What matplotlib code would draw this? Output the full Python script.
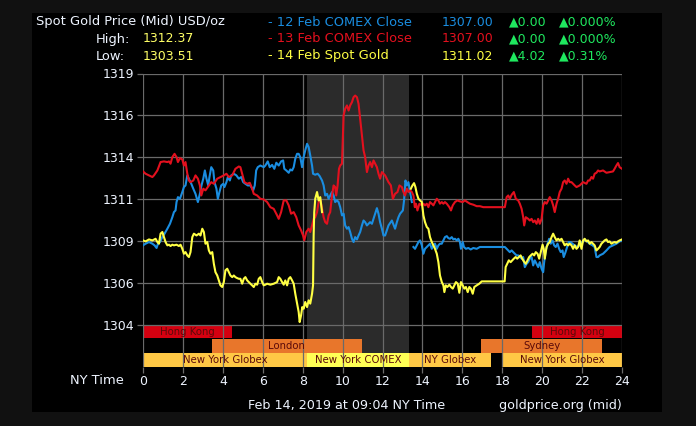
import numpy as np
import matplotlib
matplotlib.use('Agg')
import matplotlib.pyplot as plt
import matplotlib.transforms as mtransforms
from matplotlib.patches import Rectangle

# 12 Feb COMEX close (blue), NY hour -> price
blue = [(0.00, 1308.56), (0.13, 1308.66), (0.30, 1308.76), (0.47, 1308.66), (0.58, 1308.56), (0.68, 1308.40),
        (0.75, 1308.66), (0.85, 1308.76), (0.97, 1309.06), (1.08, 1309.27), (1.22, 1309.57), (1.35, 1309.87),
        (1.47, 1310.27), (1.55, 1310.58), (1.63, 1310.68), (1.68, 1311.19), (1.75, 1311.49), (1.85, 1311.39),
        (1.97, 1311.80), (2.05, 1312.10), (2.13, 1312.20), (2.22, 1312.81), (2.30, 1312.61), (2.42, 1312.30),
        (2.52, 1312.00), (2.63, 1311.69), (2.75, 1311.19), (2.85, 1311.69), (2.93, 1312.20), (3.02, 1312.61),
        (3.10, 1313.11), (3.18, 1312.61), (3.27, 1312.20), (3.33, 1312.71), (3.42, 1313.31), (3.52, 1313.11),
        (3.58, 1312.40), (3.68, 1312.00), (3.75, 1311.39), (3.83, 1311.80), (3.92, 1312.20), (4.02, 1312.30),
        (4.08, 1312.10), (4.18, 1312.40), (4.25, 1312.71), (4.35, 1312.50), (4.42, 1312.81), (4.55, 1312.91),
        (4.68, 1312.81), (4.80, 1312.61), (4.92, 1312.71), (5.02, 1312.40), (5.13, 1312.30), (5.25, 1312.20),
        (5.38, 1312.20), (5.52, 1311.90), (5.60, 1312.20), (5.67, 1313.11), (5.75, 1313.31), (5.88, 1313.41),
        (6.05, 1313.31), (6.13, 1313.41), (6.25, 1313.66), (6.35, 1313.31), (6.47, 1313.45), (6.58, 1313.21),
        (6.68, 1313.58), (6.80, 1313.41), (6.92, 1313.66), (7.02, 1313.72), (7.08, 1313.21), (7.18, 1313.11),
        (7.30, 1312.97), (7.38, 1313.17), (7.47, 1313.11), (7.55, 1313.31), (7.63, 1313.82), (7.72, 1314.12),
        (7.80, 1314.12), (7.88, 1313.92), (7.97, 1313.31), (8.05, 1313.92), (8.13, 1314.33), (8.22, 1314.73),
        (8.30, 1314.53), (8.38, 1314.02), (8.47, 1313.41), (8.52, 1312.91), (8.63, 1312.85), (8.75, 1312.91),
        (8.85, 1312.77), (8.97, 1312.50), (9.05, 1312.20), (9.13, 1311.59), (9.22, 1311.69), (9.30, 1311.39),
        (9.38, 1311.59), (9.47, 1311.80), (9.55, 1311.59), (9.63, 1311.19), (9.72, 1311.29), (9.80, 1311.19),
        (9.88, 1310.88), (9.97, 1310.38), (10.05, 1310.48), (10.13, 1309.77), (10.22, 1309.57), (10.30, 1309.67),
        (10.38, 1309.37), (10.47, 1308.96), (10.55, 1308.76), (10.63, 1309.06), (10.72, 1308.92), (10.80, 1309.16),
        (10.88, 1309.37), (10.97, 1309.77), (11.05, 1310.07), (11.13, 1309.97), (11.22, 1309.77), (11.30, 1309.87),
        (11.38, 1309.97), (11.47, 1309.87), (11.55, 1310.17), (11.63, 1310.48), (11.72, 1310.82), (11.80, 1310.48),
        (11.88, 1309.97), (11.97, 1309.57), (12.05, 1309.16), (12.13, 1309.16), (12.30, 1309.77), (12.47, 1310.07),
        (12.63, 1309.57), (12.72, 1309.97), (12.80, 1310.27), (12.88, 1310.48), (13.02, 1310.68), (13.08, 1311.29),
        (13.15, 1312.50), (13.22, 1312.20), (13.30, 1312.40), (13.38, 1311.80), (13.47, 1311.19), (13.50, np.nan),
        (13.55, 1308.46), (13.63, 1308.35), (13.72, 1308.56), (13.80, 1308.76), (13.88, 1308.86), (13.97, 1308.56),
        (14.05, 1308.05), (14.13, 1308.35), (14.22, 1308.46), (14.30, 1308.56), (14.38, 1308.66), (14.47, 1308.35),
        (14.55, 1308.56), (14.63, 1308.66), (14.72, 1308.35), (14.80, 1308.56), (14.88, 1308.66), (14.97, 1308.66),
        (15.05, 1308.86), (15.13, 1309.06), (15.22, 1309.12), (15.30, 1309.00), (15.38, 1308.96), (15.47, 1309.06),
        (15.55, 1308.92), (15.63, 1308.96), (15.72, 1308.86), (15.80, 1308.96), (15.88, 1308.76), (15.93, 1308.35),
        (16.02, 1308.76), (16.08, 1308.46), (16.18, 1308.35), (16.30, 1308.40), (16.42, 1308.31), (16.55, 1308.40),
        (16.72, 1308.35), (16.88, 1308.46), (17.05, 1308.46), (18.13, 1308.46), (18.22, 1308.35), (18.30, 1308.25),
        (18.38, 1308.15), (18.47, 1308.25), (18.55, 1308.15), (18.63, 1308.05), (18.72, 1307.95), (18.80, 1307.95),
        (18.88, 1307.85), (18.97, 1307.75), (19.05, 1307.85), (19.13, 1307.24), (19.22, 1307.44), (19.30, 1307.54),
        (19.38, 1307.75), (19.47, 1307.85), (19.55, 1307.34), (19.63, 1307.65), (19.72, 1307.44), (19.80, 1307.24),
        (19.88, 1307.54), (19.97, 1307.14), (20.05, 1306.93), (20.10, 1307.54), (20.18, 1308.25), (20.27, 1308.66),
        (20.35, 1308.96), (20.43, 1308.66), (20.52, 1308.86), (20.60, 1308.56), (20.68, 1308.46), (20.77, 1308.66),
        (20.85, 1308.35), (20.93, 1308.15), (21.02, 1308.25), (21.08, 1307.85), (21.17, 1308.15), (21.25, 1308.46),
        (21.33, 1308.76), (21.42, 1308.76), (21.52, 1308.66), (21.63, 1308.56), (21.75, 1308.46), (21.88, 1308.56),
        (22.02, 1308.76), (22.13, 1308.92), (22.25, 1308.80), (22.38, 1308.66), (22.52, 1308.56), (22.63, 1308.46),
        (22.72, 1307.85), (22.80, 1307.85), (22.88, 1307.95), (23.05, 1308.05), (23.22, 1308.25), (23.38, 1308.46),
        (23.55, 1308.56), (23.72, 1308.66), (23.88, 1308.80), (24.00, 1308.86)]

# 13 Feb COMEX close (red)
red = [(0.00, 1313.05), (0.13, 1312.91), (0.30, 1312.81), (0.47, 1312.71), (0.55, 1312.81), (0.72, 1313.11),
       (0.88, 1313.62), (1.05, 1313.66), (1.22, 1313.62), (1.30, 1313.66), (1.38, 1313.52), (1.47, 1313.92),
       (1.58, 1314.12), (1.68, 1313.92), (1.75, 1313.62), (1.85, 1313.86), (1.97, 1313.78), (2.05, 1313.41),
       (2.13, 1313.62), (2.22, 1312.91), (2.30, 1312.50), (2.38, 1312.40), (2.52, 1312.50), (2.63, 1312.81),
       (2.75, 1312.61), (2.85, 1312.20), (2.92, 1311.59), (3.02, 1312.00), (3.13, 1311.90), (3.30, 1312.20),
       (3.42, 1312.40), (3.55, 1312.30), (3.72, 1312.61), (3.88, 1312.71), (4.05, 1312.81), (4.18, 1312.91),
       (4.30, 1312.71), (4.47, 1312.81), (4.63, 1313.21), (4.80, 1313.35), (4.88, 1313.31), (4.97, 1312.91),
       (5.08, 1312.40), (5.22, 1312.30), (5.35, 1312.36), (5.47, 1312.00), (5.55, 1311.69), (5.72, 1311.59),
       (5.88, 1311.39), (6.05, 1311.35), (6.22, 1311.19), (6.38, 1310.88), (6.55, 1310.78), (6.72, 1310.38),
       (6.80, 1310.17), (6.92, 1310.58), (7.05, 1311.29), (7.18, 1311.29), (7.30, 1310.99), (7.42, 1310.48),
       (7.55, 1310.58), (7.68, 1310.27), (7.80, 1309.77), (7.92, 1309.47), (8.02, 1309.16), (8.08, 1308.86),
       (8.18, 1309.37), (8.30, 1309.57), (8.38, 1309.37), (8.47, 1309.77), (8.55, 1310.17), (8.63, 1310.27),
       (8.72, 1310.58), (8.80, 1311.19), (8.88, 1311.39), (8.97, 1310.78), (9.05, 1310.27), (9.13, 1309.97),
       (9.22, 1309.87), (9.30, 1310.38), (9.38, 1310.58), (9.47, 1311.59), (9.55, 1312.20), (9.63, 1312.10),
       (9.68, 1311.59), (9.75, 1312.20), (9.82, 1313.21), (9.88, 1313.41), (9.97, 1313.52), (10.05, 1316.45),
       (10.13, 1316.86), (10.22, 1317.06), (10.30, 1316.75), (10.38, 1317.06), (10.47, 1317.26), (10.55, 1317.56),
       (10.63, 1317.66), (10.72, 1317.56), (10.80, 1317.16), (10.88, 1316.25), (10.97, 1315.24), (11.05, 1314.33),
       (11.13, 1313.92), (11.22, 1313.01), (11.30, 1313.41), (11.38, 1313.62), (11.47, 1313.31), (11.55, 1313.72),
       (11.63, 1313.52), (11.72, 1313.31), (11.80, 1312.91), (11.88, 1312.61), (11.97, 1313.01), (12.13, 1312.81),
       (12.30, 1312.40), (12.42, 1312.20), (12.52, 1311.39), (12.63, 1311.69), (12.75, 1311.80), (12.85, 1312.20),
       (12.97, 1312.10), (13.05, 1311.80), (13.13, 1311.59), (13.22, 1312.00), (13.30, 1311.80), (13.38, 1311.90),
       (13.47, 1311.80), (13.55, 1311.59), (13.62, 1310.88), (13.68, 1311.09), (13.75, 1310.68), (13.85, 1311.09),
       (13.97, 1310.99), (14.05, 1311.09), (14.13, 1310.99), (14.22, 1311.09), (14.30, 1310.88), (14.38, 1311.19),
       (14.47, 1311.09), (14.55, 1310.99), (14.63, 1311.19), (14.72, 1311.39), (14.80, 1311.29), (14.88, 1311.09),
       (14.97, 1311.19), (15.05, 1311.09), (15.13, 1311.19), (15.22, 1311.09), (15.35, 1310.88), (15.43, 1310.68),
       (15.52, 1310.99), (15.63, 1311.19), (15.75, 1311.29), (15.88, 1311.23), (16.02, 1311.19), (16.13, 1311.29),
       (16.25, 1311.19), (16.38, 1311.09), (16.55, 1311.03), (16.72, 1310.94), (16.88, 1310.94), (17.05, 1310.88),
       (18.13, 1310.88), (18.22, 1311.49), (18.30, 1311.59), (18.38, 1311.39), (18.47, 1311.63), (18.58, 1311.80),
       (18.68, 1311.39), (18.80, 1311.29), (18.88, 1311.09), (18.97, 1310.78), (19.05, 1310.27), (19.10, 1309.77),
       (19.18, 1310.27), (19.30, 1310.17), (19.38, 1310.07), (19.47, 1310.17), (19.55, 1309.97), (19.63, 1310.07),
       (19.72, 1309.87), (19.80, 1310.17), (19.88, 1309.87), (19.97, 1310.17), (20.05, 1310.99), (20.13, 1311.19),
       (20.22, 1311.09), (20.30, 1311.29), (20.38, 1311.49), (20.47, 1311.29), (20.55, 1310.99), (20.63, 1310.58),
       (20.72, 1311.09), (20.80, 1311.39), (20.88, 1311.80), (20.97, 1312.00), (21.05, 1312.40), (21.13, 1312.50),
       (21.22, 1312.30), (21.30, 1312.61), (21.38, 1312.40), (21.47, 1312.40), (21.55, 1312.30), (21.63, 1312.20),
       (21.72, 1312.10), (21.88, 1312.20), (22.05, 1312.40), (22.22, 1312.30), (22.30, 1312.50), (22.38, 1312.50),
       (22.47, 1312.71), (22.55, 1312.61), (22.63, 1312.91), (22.72, 1312.97), (22.80, 1313.11), (22.88, 1313.05),
       (23.05, 1313.11), (23.22, 1312.97), (23.38, 1313.01), (23.55, 1313.05), (23.63, 1313.21), (23.72, 1313.41),
       (23.80, 1313.56), (23.88, 1313.31), (24.00, 1313.21)]

# 14 Feb spot gold (yellow)
yellow = [(0.00, 1308.86), (0.13, 1308.80), (0.30, 1308.92), (0.47, 1308.86), (0.63, 1308.96), (0.72, 1308.76),
          (0.80, 1308.66), (0.88, 1309.27), (0.97, 1309.37), (1.05, 1309.06), (1.13, 1308.76), (1.22, 1308.56),
          (1.30, 1308.60), (1.38, 1308.52), (1.47, 1308.60), (1.55, 1308.56), (1.68, 1308.60), (1.80, 1308.52),
          (1.88, 1308.60), (1.97, 1308.35), (2.05, 1308.05), (2.13, 1308.15), (2.22, 1307.95), (2.30, 1307.85),
          (2.38, 1308.15), (2.47, 1309.06), (2.55, 1309.27), (2.68, 1309.16), (2.80, 1309.27), (2.88, 1309.16),
          (2.97, 1309.57), (3.05, 1309.37), (3.13, 1308.66), (3.22, 1308.76), (3.30, 1308.25), (3.38, 1308.05),
          (3.47, 1308.15), (3.55, 1307.44), (3.63, 1306.93), (3.72, 1306.73), (3.80, 1306.43), (3.88, 1306.13),
          (3.97, 1306.03), (4.05, 1306.33), (4.13, 1307.04), (4.22, 1307.14), (4.30, 1306.93), (4.38, 1306.73),
          (4.47, 1306.63), (4.55, 1306.73), (4.63, 1306.63), (4.72, 1306.57), (4.80, 1306.53), (4.88, 1306.53),
          (4.97, 1306.23), (5.05, 1306.53), (5.13, 1306.63), (5.22, 1306.43), (5.30, 1306.33), (5.38, 1306.23),
          (5.47, 1306.13), (5.55, 1306.03), (5.63, 1306.23), (5.72, 1306.17), (5.80, 1306.53), (5.88, 1306.63),
          (5.97, 1306.33), (6.05, 1306.13), (6.13, 1306.17), (6.22, 1306.23), (6.38, 1306.17), (6.55, 1306.23),
          (6.72, 1306.33), (6.80, 1306.63), (6.88, 1306.53), (6.97, 1306.33), (7.05, 1306.17), (7.13, 1306.43),
          (7.22, 1306.13), (7.30, 1306.53), (7.38, 1306.63), (7.47, 1306.43), (7.55, 1306.23), (7.63, 1305.62),
          (7.72, 1305.02), (7.80, 1304.51), (7.85, 1303.90), (7.92, 1304.31), (7.98, 1304.81), (8.05, 1304.71),
          (8.13, 1305.12), (8.22, 1304.81), (8.30, 1305.22), (8.38, 1305.02), (8.47, 1305.62), (8.52, 1306.13),
          (8.55, 1309.16), (8.58, 1310.58), (8.63, 1311.39), (8.72, 1311.80), (8.80, 1311.29), (8.88, 1311.49),
          (8.97, 1310.58), (9.00, np.nan), (13.42, 1312.00), (13.50, 1312.20), (13.58, 1312.34), (13.65, 1312.10),
          (13.72, 1311.69), (13.80, 1311.39), (13.88, 1311.29), (13.97, 1311.19), (14.05, 1310.38), (14.13, 1309.97),
          (14.22, 1309.67), (14.30, 1309.57), (14.38, 1309.06), (14.47, 1308.76), (14.55, 1308.56), (14.63, 1308.35),
          (14.72, 1308.05), (14.80, 1307.54), (14.88, 1306.73), (14.97, 1306.33), (15.05, 1306.13), (15.10, 1305.72),
          (15.17, 1306.13), (15.25, 1306.03), (15.35, 1306.17), (15.43, 1306.03), (15.52, 1305.93), (15.60, 1306.13),
          (15.68, 1306.33), (15.77, 1306.23), (15.85, 1305.68), (15.93, 1306.33), (16.02, 1306.13), (16.10, 1305.93),
          (16.18, 1306.03), (16.27, 1305.72), (16.35, 1306.03), (16.43, 1305.93), (16.52, 1305.62), (16.60, 1306.03),
          (16.72, 1306.13), (16.85, 1306.23), (16.97, 1306.37), (18.12, 1306.37), (18.17, 1307.24), (18.25, 1307.44),
          (18.33, 1307.65), (18.42, 1307.54), (18.50, 1307.65), (18.58, 1307.75), (18.67, 1307.85), (18.75, 1307.75),
          (18.83, 1307.85), (18.92, 1307.95), (19.00, 1307.75), (19.08, 1307.59), (19.18, 1307.44), (19.27, 1307.65),
          (19.35, 1307.85), (19.43, 1307.95), (19.52, 1308.05), (19.60, 1307.95), (19.68, 1308.15), (19.77, 1308.05),
          (19.85, 1307.75), (19.93, 1308.15), (20.02, 1308.60), (20.08, 1308.35), (20.13, 1307.75), (20.22, 1308.46),
          (20.30, 1308.66), (20.38, 1308.76), (20.47, 1309.06), (20.55, 1309.27), (20.63, 1309.06), (20.72, 1308.86),
          (20.80, 1308.96), (20.88, 1308.86), (20.97, 1308.96), (21.05, 1308.76), (21.13, 1308.56), (21.22, 1308.66),
          (21.30, 1308.56), (21.38, 1308.66), (21.47, 1308.56), (21.55, 1308.35), (21.63, 1308.56), (21.72, 1308.35),
          (21.80, 1308.46), (21.88, 1308.86), (21.97, 1308.35), (22.05, 1308.86), (22.13, 1308.96), (22.22, 1308.80),
          (22.30, 1308.86), (22.38, 1308.66), (22.47, 1308.76), (22.55, 1308.66), (22.63, 1308.56), (22.72, 1308.25),
          (22.80, 1308.35), (22.88, 1308.46), (22.97, 1308.66), (23.05, 1308.76), (23.13, 1308.86), (23.22, 1308.92),
          (23.30, 1308.76), (23.38, 1308.80), (23.47, 1308.66), (23.55, 1308.72), (23.63, 1308.76), (23.72, 1308.72),
          (23.80, 1308.80), (23.88, 1308.86), (24.00, 1308.92)]

y_ticks = [1303.7, 1306.25, 1308.8, 1311.35, 1313.9, 1316.45, 1319.0]
y_labels = ['1304', '1306', '1309', '1311', '1314', '1316', '1319']
x_ticks = list(range(0, 25, 2))

# trading sessions (name, start hour, end hour)
sessions_asia = [('Hong Kong', 0.0, 4.45), ('Hong Kong', 19.5, 24.0)]
sessions_mid = [('London', 3.45, 10.95), ('Sydney', 16.95, 23.0)]
sessions_ny = [('New York Globex', 0.0, 8.2), ('New York COMEX', 8.2, 13.35),
               ('NY Globex', 13.35, 17.45), ('New York Globex', 18.0, 24.0)]
comex_shade = (8.2, 13.35)

legend_names = ['- 12 Feb COMEX Close', '- 13 Feb COMEX Close', '- 14 Feb Spot Gold']
legend_prices = ['1307.00', '1307.00', '1311.02']
legend_change = ['▲0.00', '▲0.00', '▲4.02']
legend_pct = ['▲0.000%', '▲0.000%', '▲0.31%']

W, H = 696, 426
BLUE, RED, YEL = '#1a8de0', '#e3101e', '#ffff44'
GREEN = '#1fe85f'
TXT = '#eef4ff'
FS = 9.4

plt.rcParams['font.family'] = ['DejaVu Sans']
fig = plt.figure(figsize=(W / 100, H / 100), dpi=100, facecolor='#111111')


def px(x, y):
    return x / W, 1 - y / H


# black panel
fig.patches.append(Rectangle(px(32, 412), 630 / W, 399 / H, transform=fig.transFigure,
                             facecolor='black', edgecolor='none', zorder=-5))

left, right, top, bottom = 143, 622, 73.5, 367
ax = fig.add_axes([left / W, 1 - bottom / H, (right - left) / W, (bottom - top) / H])
ax.set_zorder(2)
ax.set_facecolor('black')
ax.set_xlim(0, 24)
ax.set_ylim(1301.17, 1319.0)

ax.axvspan(*comex_shade, color='#2b2b2b', zorder=0, lw=0)

trans = mtransforms.blended_transform_factory(ax.transData, ax.transAxes)
rows = [(sessions_asia, 0.0987, 0.0443), (sessions_mid, 0.0494, 0.0459), (sessions_ny, 0.0, 0.0477)]
colors = {'Hong Kong': '#d40010', 'London': '#e8762b', 'Sydney': '#e8762b',
          'New York Globex': '#ffc845', 'NY Globex': '#ffc845', 'New York COMEX': '#ffff55'}
for sess, y0, hgt in rows:
    for name, s, e in sess:
        ax.add_patch(Rectangle((s, y0), e - s, hgt, transform=trans, facecolor=colors[name],
                               edgecolor='none', zorder=1))
        ax.text((s + e) / 2, y0 + hgt / 2, name, transform=trans, ha='center', va='center',
                fontsize=7.3, color='#5a0a0a', zorder=4)

for data, col in [(blue, BLUE), (red, RED), (yellow, YEL)]:
    h, p = zip(*data)
    ax.plot(h, p, color=col, lw=1.5, zorder=3)

ax.set_xticks(x_ticks)
ax.set_yticks(y_ticks)
ax.set_yticklabels(y_labels)
ax.grid(True, color='#6a6a6a', lw=0.9)
ax.set_axisbelow(False)
for sp in ax.spines.values():
    sp.set_visible(False)
ax.tick_params(colors='#6a6a6a', labelcolor=TXT, labelsize=9, length=4, width=0.9, pad=2)

# header
fig.text(*px(36, 22), 'Spot Gold Price (Mid) USD/oz', color=TXT, fontsize=FS, va='center')
fig.text(*px(96, 39), 'High:', color=TXT, fontsize=FS, va='center')
fig.text(*px(96, 56), 'Low:', color=TXT, fontsize=FS, va='center')
fig.text(*px(143, 39), '1312.37', color='#ffff66', fontsize=9, va='center')
fig.text(*px(143, 56), '1303.51', color='#ffff66', fontsize=9, va='center')
for i, col in enumerate([BLUE, RED, YEL]):
    yy = 22 + 17 * i
    fig.text(*px(268, yy), legend_names[i], color=col, fontsize=FS, va='center')
    fig.text(*px(442, yy), legend_prices[i], color=col, fontsize=9, va='center')
    fig.text(*px(509, yy), legend_change[i], color=GREEN, fontsize=9, va='center')
    fig.text(*px(559, yy), legend_pct[i], color=GREEN, fontsize=9, va='center')

fig.text(*px(124, 381), 'NY Time', color=TXT, fontsize=FS, va='center', ha='right')
fig.text(*px(248, 405), 'Feb 14, 2019 at 09:04 NY Time', color=TXT, fontsize=9.2, va='center')
fig.text(*px(499, 405), 'goldprice.org (mid)', color=TXT, fontsize=9.2, va='center')

fig.savefig('out.png', dpi=100, facecolor=fig.get_facecolor())
